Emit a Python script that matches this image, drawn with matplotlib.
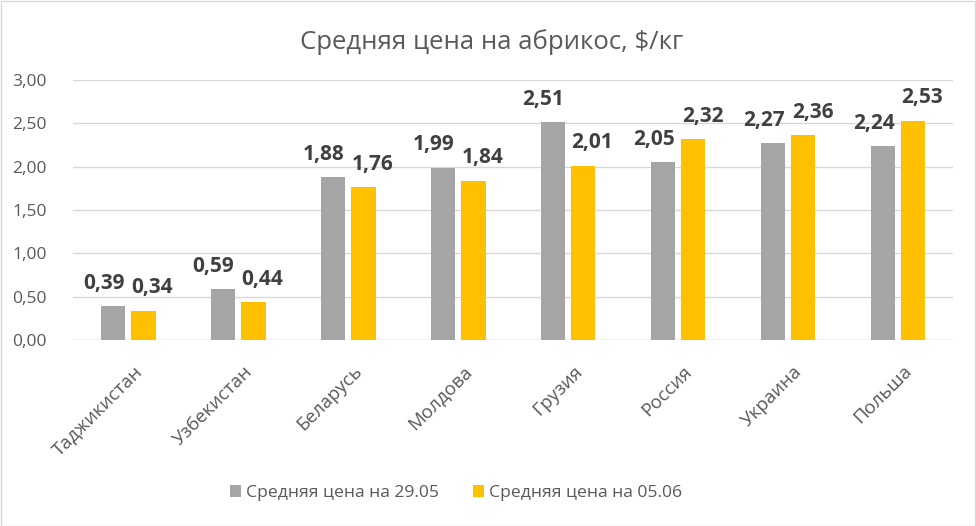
import matplotlib
matplotlib.use("Agg")
import matplotlib.pyplot as plt
import matplotlib.transforms as mtransforms
import numpy as np
from matplotlib.patches import Rectangle

plt.rcParams['font.family'] = ['Open Sans', 'DejaVu Sans']

categories = ["Таджикистан", "Узбекистан", "Беларусь", "Молдова", "Грузия", "Россия", "Украина", "Польша"]
series_names = ["Средняя цена на 29.05", "Средняя цена на 05.06"]
prices_2905 = [0.39, 0.59, 1.88, 1.99, 2.51, 2.05, 2.27, 2.24]
prices_0506 = [0.34, 0.44, 1.76, 1.84, 2.01, 2.32, 2.36, 2.53]
yticks = [0.0, 0.5, 1.0, 1.5, 2.0, 2.5, 3.0]
colors = ["#a5a5a5", "#ffc000"]

W, H = 976, 526
fig = plt.figure(figsize=(W/100, H/100), dpi=100)
ax = fig.add_axes([73/W, (H-340)/H, 880/W, 260/H])

x = np.arange(len(categories))
bw = 0.22
off = 0.14
text_col = "#595959"
lab_col = "#404040"

for vals, sign, col, name in [(prices_2905, -1, colors[0], series_names[0]),
                              (prices_0506, 1, colors[1], series_names[1])]:
    ax.bar(x + sign*off, vals, width=bw, color=col, label=name, zorder=3)
    for xi, v in zip(x + sign*off, vals):
        ax.annotate(f"{v:.2f}".replace(".", ","), (xi, v), xytext=(sign*6.5, 12.5),
                    textcoords="offset points", ha="center", va="baseline",
                    fontsize=15, fontweight="bold", color=lab_col)

ax.set_xlim(-0.5, len(categories) - 0.5)
ax.set_ylim(0, 3.0)
ax.set_yticks(yticks)
ax.set_yticklabels([f"{t:.2f}".replace(".", ",") for t in yticks], fontsize=12.5, color=text_col)
ax.set_xticks(x)
ax.set_xticklabels(categories, rotation=45, ha="right", rotation_mode="anchor",
                   fontsize=13.5, color=text_col)
ax.tick_params(axis="x", length=0, pad=16)
ax.tick_params(axis="y", length=0, pad=19)
shift = mtransforms.ScaledTranslation(5/100, 0, fig.dpi_scale_trans)
for lab in ax.get_xticklabels():
    lab.set_transform(lab.get_transform() + shift)
ax.grid(axis="y", color="#d9d9d9", linewidth=1, zorder=0)
for s in ax.spines.values():
    s.set_visible(False)
ax.axhline(0, color="#d9d9d9", linewidth=1, zorder=1)

fig.text(492/W, 1 - 42/H, "Средняя цена на абрикос, $/кг", ha="center", va="center",
         fontsize=18.5, color=text_col)

fig.legend(loc="center", bbox_to_anchor=(456/W, 1 - 493/H), ncol=2, frameon=False,
           fontsize=12.6, handlelength=0.63, handleheight=0.63, columnspacing=1.95,
           handletextpad=0.3, labelcolor=text_col)

fig.patches.append(Rectangle((0.5/W, 0.5/H), 1 - 1.5/W, 1 - 1.5/H, transform=fig.transFigure,
                             fill=False, edgecolor="#d9d9d9", linewidth=1))

fig.savefig("out.png", dpi=100)
